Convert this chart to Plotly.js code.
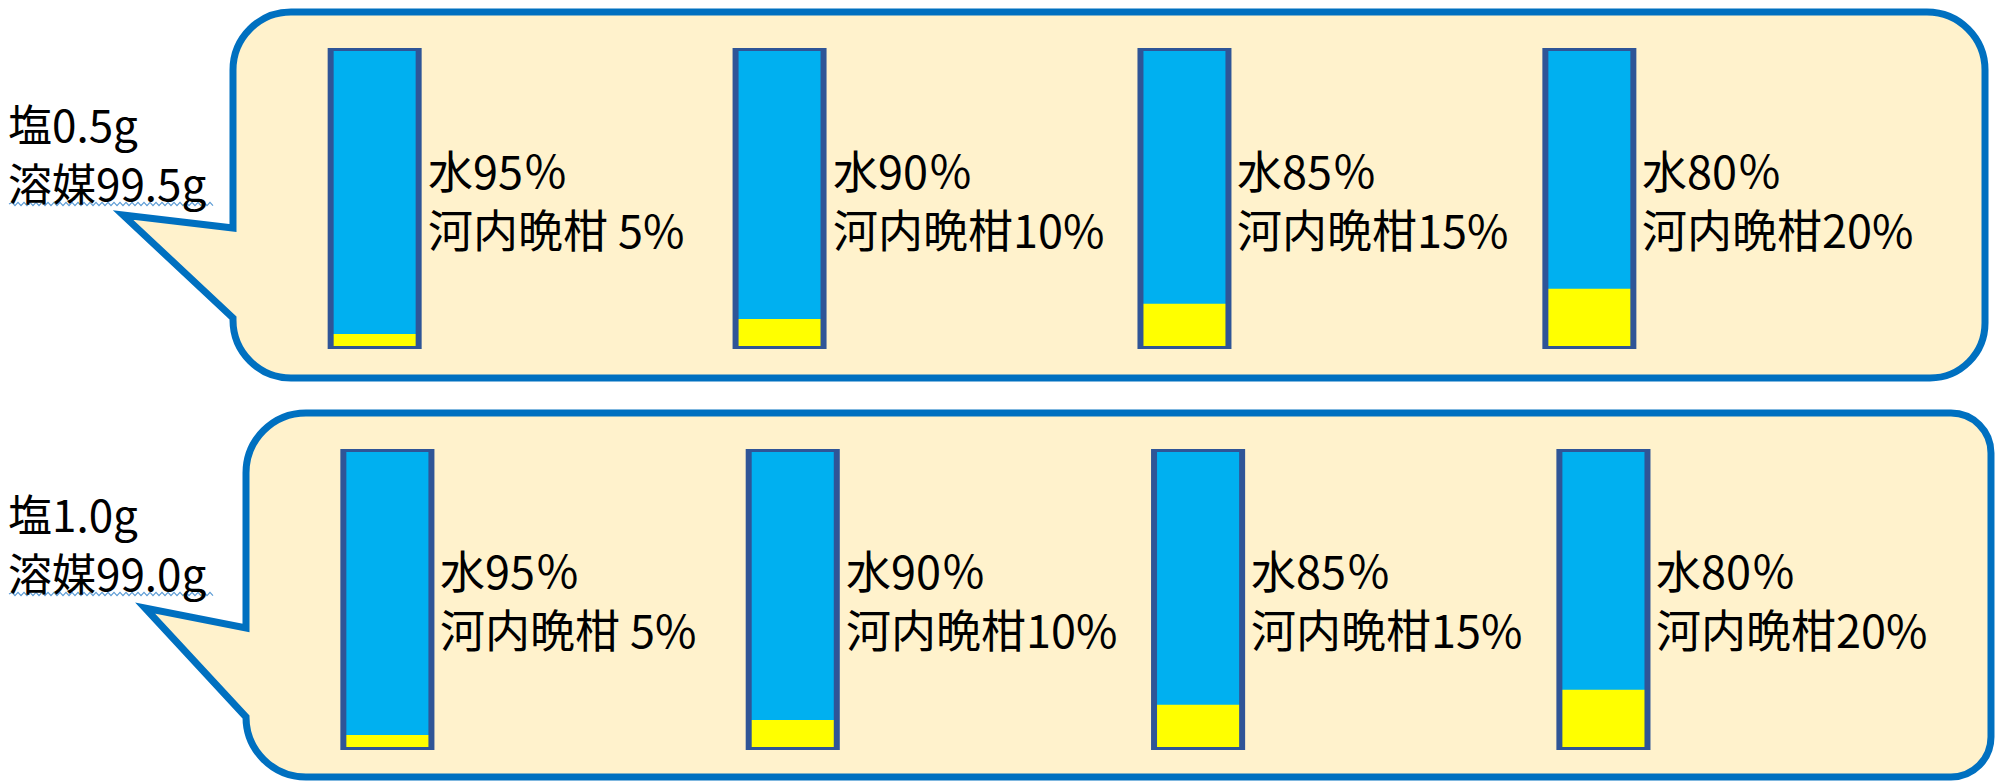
<!DOCTYPE html>
<html>
<head>
<meta charset="utf-8">
<script src="https://cdn.plot.ly/plotly-3.0.1.min.js"></script>
<style>html,body{margin:0;padding:0;background:#fff;}#chart{width:1995px;height:781px;}</style>
</head>
<body>
<div id="chart"></div>
<script>
// ---- data ----
const sampleIndex = [0, 1, 2, 3];
const waterPct = [95, 90, 85, 80];
const mandarinPct = [5, 10, 15, 20];
const waterLabels = ["水95％", "水90％", "水85％", "水80％"];
const mandarinLabels = ["河内晩柑 5%", "河内晩柑10%", "河内晩柑15%", "河内晩柑20%"];
const saltLabels = ["塩0.5g", "塩1.0g"];
const solventLabels = ["溶媒99.5g", "溶媒99.0g"];

// ---- styles ----
const W = 1995, H = 781;
const CYAN = "#00B0F0", YELLOW = "#FFFF00", OUTLINE = "#2F5597";
const BUBBLE_LINE = "#0070C0", BUBBLE_FILL = "#FFF2CC";
const FONT = "Noto Sans CJK JP, Noto Sans, sans-serif";
const BAR_W = 0.2173;

const totalPct = waterPct.map((w, i) => w + mandarinPct[i]);

const traces = [];
const rows = [{xa: "x", ya: "y"}, {xa: "x2", ya: "y2"}];
rows.forEach(r => {
  traces.push({type: "bar", x: sampleIndex, y: totalPct, width: BAR_W, xaxis: r.xa, yaxis: r.ya,
    marker: {color: CYAN, line: {width: 0}}, hoverinfo: "skip", showlegend: false});
  traces.push({type: "bar", x: sampleIndex, y: mandarinPct, width: BAR_W, xaxis: r.xa, yaxis: r.ya,
    marker: {color: YELLOW, line: {width: 0}}, hoverinfo: "skip", showlegend: false});
  traces.push({type: "bar", x: sampleIndex, y: totalPct, width: BAR_W, xaxis: r.xa, yaxis: r.ya,
    marker: {color: "rgba(0,0,0,0)", line: {width: 6, color: OUTLINE}}, hoverinfo: "skip", showlegend: false});
});

// ---- helpers for callout shapes (pixel -> paper) ----
const X = x => (x / W).toFixed(5);
const Y = y => (1 - y / H).toFixed(5);
const P = (x, y) => X(x) + "," + Y(y);
const K = 0.5523;
function bubble(L, T, R, B, r, tailTop, tip, tailBot) {
  const [r1, r2, r3, r4] = r;
  let d = "M" + P(L, T + r1);
  d += " C" + P(L, T + r1 - K * r1) + " " + P(L + r1 - K * r1, T) + " " + P(L + r1, T);
  d += " L" + P(R - r2, T);
  d += " C" + P(R - r2 + K * r2, T) + " " + P(R, T + r2 - K * r2) + " " + P(R, T + r2);
  d += " L" + P(R, B - r3);
  d += " C" + P(R, B - r3 + K * r3) + " " + P(R - r3 + K * r3, B) + " " + P(R - r3, B);
  d += " L" + P(L + r4, B);
  d += " C" + P(L + r4 - K * r4, B) + " " + P(L, B - r4 + K * r4) + " " + P(L, B - r4);
  d += " L" + P(L, tailBot);
  d += " L" + P(tip[0], tip[1]);
  d += " L" + P(L, tailTop);
  d += " Z";
  return d;
}
function squiggle(x0, x1, y) {
  let d = "M" + P(x0, y);
  let up = true;
  for (let x = x0 + 3; x <= x1; x += 3) {
    d += " L" + P(x, y + (up ? -1.6 : 1.6));
    up = !up;
  }
  return d;
}

const shapes = [
  {type: "path", xref: "paper", yref: "paper", layer: "below",
   path: bubble(233, 12, 1985, 378, [58, 58, 55, 58], 228, [123, 215], 318),
   fillcolor: BUBBLE_FILL, line: {color: BUBBLE_LINE, width: 7}},
  {type: "path", xref: "paper", yref: "paper", layer: "below",
   path: bubble(246, 413, 1991, 777, [60, 40, 40, 60], 628, [145, 608], 717),
   fillcolor: BUBBLE_FILL, line: {color: BUBBLE_LINE, width: 7}},
  {type: "path", xref: "paper", yref: "paper", layer: "above",
   path: squiggle(9, 215, 204), line: {color: "#5B9BD5", width: 1.2}},
  {type: "path", xref: "paper", yref: "paper", layer: "above",
   path: squiggle(9, 215, 594), line: {color: "#5B9BD5", width: 1.2}}
];

const annotations = [];
const PITCH = 59;
rows.forEach((r, ri) => {
  sampleIndex.forEach(i => {
    [waterLabels[i], mandarinLabels[i]].forEach((t, li) => {
      annotations.push({xref: r.xa, yref: r.ya, x: i + BAR_W / 2, y: 50,
        xanchor: "left", yanchor: "middle", xshift: 7, yshift: li === 0 ? PITCH / 2 : -PITCH / 2,
        align: "left", showarrow: false, text: t,
        font: {family: FONT, size: 45, color: "#000"}});
    });
  });
  const c = ri === 0 ? 152 : 542;
  [saltLabels[ri], solventLabels[ri]].forEach((t, li) => {
    annotations.push({xref: "paper", yref: "paper", x: 6 / W, y: 1 - (c + (li === 0 ? -PITCH / 2 : PITCH / 2)) / H,
      xanchor: "left", yanchor: "middle", align: "left", showarrow: false, text: t,
      font: {family: FONT, size: 44, color: "#000"}});
  });
});

const hidden = {visible: false, showgrid: false, zeroline: false, fixedrange: true};
const layout = {
  width: W, height: H,
  margin: {l: 0, r: 0, t: 0, b: 0, pad: 0},
  paper_bgcolor: "#ffffff", plot_bgcolor: "rgba(0,0,0,0)",
  barmode: "overlay", showlegend: false,
  xaxis: Object.assign({}, hidden, {domain: [0, 1], range: [-0.9253, 4.0018], anchor: "y"}),
  yaxis: Object.assign({}, hidden, {domain: [0.55314, 0.93854], range: [0, 100], anchor: "x"}),
  xaxis2: Object.assign({}, hidden, {domain: [0, 1], range: [-0.9557, 3.966], anchor: "y2"}),
  yaxis2: Object.assign({}, hidden, {domain: [0.03969, 0.42510], range: [0, 100], anchor: "x2"}),
  shapes: shapes,
  annotations: annotations
};
Plotly.newPlot("chart", traces, layout, {displayModeBar: false, staticPlot: true});
</script>
</body>
</html>
